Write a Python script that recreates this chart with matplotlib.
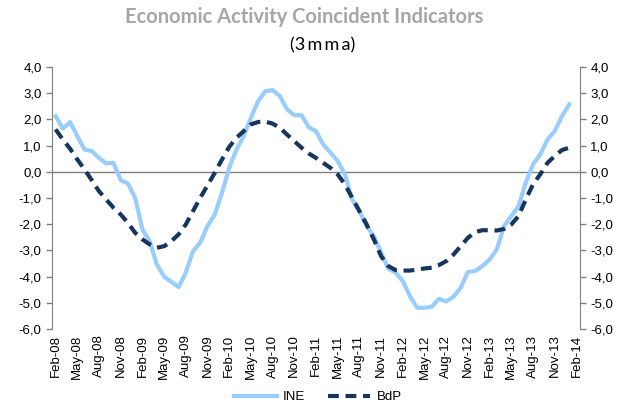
import numpy as np
import matplotlib
matplotlib.use("Agg")
import matplotlib.pyplot as plt
from matplotlib.ticker import FuncFormatter

# Monthly data, Feb-08 .. Jan-14 (axis categories run to Feb-14)
months = ["Jan", "Feb", "Mar", "Apr", "May", "Jun", "Jul", "Aug", "Sep", "Oct", "Nov", "Dec"]
categories = []
for k in range(73):
    m = (1 + k) % 12
    y = 8 + (1 + k) // 12
    categories.append(f"{months[m]}-{y:02d}")

ine = [2.12, 1.65, 1.90, 1.36, 0.85, 0.79, 0.53, 0.32, 0.34, -0.32,
       -0.45, -1.00, -2.20, -2.65, -3.54, -4.00, -4.20, -4.40, -3.85, -3.03,
       -2.70, -2.07, -1.63, -0.80, 0.15, 0.85, 1.36, 2.06, 2.70, 3.08,
       3.12, 2.89, 2.38, 2.16, 2.16, 1.70, 1.55, 1.04, 0.73, 0.41,
       -0.10, -1.06, -1.50, -2.07, -2.46, -3.09, -3.70, -3.85, -4.17, -4.75,
       -5.19, -5.19, -5.15, -4.85, -4.95, -4.77, -4.43, -3.82, -3.79, -3.60,
       -3.35, -2.96, -2.07, -1.69, -1.31, -0.42, 0.28, 0.66, 1.23, 1.55,
       2.12, 2.57]

bdp = [1.62, 1.23, 0.88, 0.47, 0.09, -0.32, -0.74, -1.06, -1.37, -1.63,
       -1.95, -2.33, -2.58, -2.77, -2.90, -2.84, -2.65, -2.39, -2.01, -1.50,
       -0.99, -0.52, -0.04, 0.47, 0.95, 1.30, 1.55, 1.81, 1.90, 1.91,
       1.84, 1.68, 1.42, 1.17, 0.92, 0.70, 0.53, 0.34, 0.15, -0.10,
       -0.48, -0.99, -1.50, -2.01, -2.58, -3.22, -3.60, -3.75, -3.77, -3.77,
       -3.73, -3.69, -3.66, -3.56, -3.41, -3.16, -2.84, -2.52, -2.30, -2.23,
       -2.23, -2.24, -2.18, -2.01, -1.69, -1.06, -0.48, -0.10, 0.34, 0.60,
       0.83, 0.92]

plt.rcParams["font.family"] = ["Liberation Sans", "DejaVu Sans"]

fig = plt.figure(figsize=(6.24, 4.05), dpi=100)
ax = fig.add_axes([52 / 624, 1 - 329 / 405, 528 / 624, 262 / 405])

x = np.arange(len(ine))
ax.plot(x, ine, color="#99CCFF", lw=3, label="INE")
ax.plot(np.arange(len(bdp)), bdp, color="#17365D", lw=3, ls=(0, (2.6, 1.6)),
        label="BdP", dash_capstyle="butt")
ax.axhline(0, color="#808080", lw=1, zorder=1)

ax.set_xlim(-0.5, len(categories) - 0.5)
ax.set_ylim(-6, 4)
ax.set_yticks(np.arange(-6, 5, 1))
fmt = FuncFormatter(lambda v, p: f"{v:.1f}".replace(".", ","))
ax.yaxis.set_major_formatter(fmt)
ax.set_xticks(np.arange(0, len(categories), 3))
ax.set_xticklabels(categories[::3], rotation=90, fontsize=9.5)
ax.tick_params(axis="x", length=0, pad=4)
ax.tick_params(axis="y", labelsize=9.5, length=4, color="#808080", width=1,
               right=True, labelright=True)

for side in ["top", "bottom"]:
    ax.spines[side].set_visible(False)
for side in ["left", "right"]:
    ax.spines[side].set_color("#808080")

fig.text(304 / 624, 1 - 17 / 405, "Economic Activity Coincident Indicators",
         ha="center", va="center", fontsize=14.5, fontweight="bold",
         color="#A6A6A6", family=["Lato", "DejaVu Sans"])
fig.text(323 / 624, 1 - 45 / 405, "(3\u2009m\u2009m\u2009a)", ha="center", va="center",
         fontsize=13, color="black", family=["Lato", "DejaVu Sans"])

fig.legend(loc="center", bbox_to_anchor=(318 / 624, 1 - 397 / 405), ncol=2,
           frameon=False, fontsize=9.5, handlelength=3.2, columnspacing=1.7,
           handletextpad=0.5)

fig.savefig("out.png", dpi=100)
